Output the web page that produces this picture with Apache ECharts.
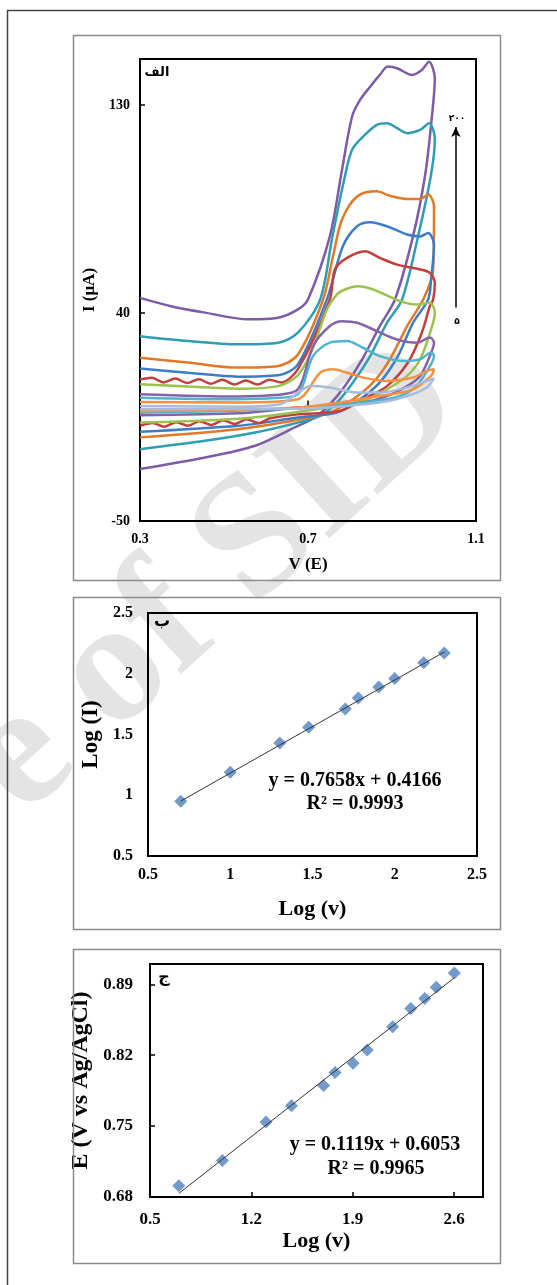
<!DOCTYPE html>
<html><head><meta charset="utf-8">
<script src="https://cdn.jsdelivr.net/npm/echarts/dist/echarts.min.js"></script>
<style>html,body{margin:0;padding:0;background:#fff;}#c{width:557px;height:1285px;}</style>
</head><body><div id="c"></div>
<script>
// ---------- Panel A: cyclic voltammograms (V, I in µA), scan rates 5..200 mV/s ----------
const cv200 = [[0.300,46.6],[0.374,43.0],[0.455,40.2],[0.557,37.3],[0.629,38.0],[0.676,41.6],[0.700,45.9],[0.752,73.2],[0.781,102.1],[0.805,125.1],[0.824,132.3],[0.848,138.0],[0.871,143.1],[0.890,146.7],[0.912,146.0],[0.948,143.1],[0.971,145.2],[0.988,148.8],[1.002,141.7],
  [0.995,125.1],[0.979,99.9],[0.950,73.2],[0.907,45.9],[0.871,34.4],[0.829,20.0],[0.788,8.4],[0.752,0.5],[0.717,-5.1],[0.676,-8.8],[0.574,-17.4],[0.455,-22.5],[0.300,-27.5]];
const cv150 = [[0.300,30.0],[0.414,27.9],[0.533,26.5],[0.629,27.2],[0.676,31.5],[0.729,45.9],[0.757,72.0],[0.786,97.7],[0.805,110.7],[0.831,116.4],[0.864,121.5],[0.888,122.2],[0.912,120.1],[0.936,117.9],[0.967,119.3],[0.988,122.2],[1.002,115.7],
  [0.993,100.0],[0.962,73.2],[0.924,45.9],[0.888,35.8],[0.848,21.4],[0.807,10.0],[0.769,1.3],[0.729,-4.5],[0.676,-7.4],[0.574,-11.7],[0.455,-15.3],[0.300,-18.9]];
const cv100 = [[0.300,20.7],[0.414,18.6],[0.533,16.4],[0.629,17.1],[0.676,22.1],[0.736,45.9],[0.760,65.0],[0.781,80.5],[0.817,90.5],[0.864,92.7],[0.895,90.8],[0.936,89.4],[0.967,89.4],[0.986,91.3],[1.000,86.2],
  [0.998,58.9],[0.976,46.5],[0.936,34.4],[0.895,20.0],[0.855,10.0],[0.807,2.7],[0.752,-3.1],[0.676,-6.2],[0.533,-10.3],[0.300,-13.8]];
const cv80 = [[0.300,16.0],[0.414,14.2],[0.533,12.5],[0.629,13.1],[0.676,17.8],[0.745,45.9],[0.783,68.9],[0.817,77.6],[0.848,79.3],[0.888,77.6],[0.936,74.0],[0.967,73.2],[0.986,74.7],[1.000,69.7],
  [0.993,54.5],[0.986,45.9],[0.950,35.8],[0.914,21.4],[0.871,10.0],[0.824,2.7],[0.769,-3.1],[0.676,-5.2],[0.533,-8.8],[0.300,-11.4]];
const cv60 = [[0.300,11.3],[0.328,12.0],[0.356,10.0],[0.384,11.7],[0.412,9.7],[0.440,11.4],[0.468,9.4],[0.496,11.1],[0.524,9.1],[0.552,10.8],[0.580,9.1],[0.608,11.2],[0.636,10.0],[0.676,15.7],[0.752,45.9],[0.764,58.9],[0.793,63.9],[0.836,66.8],[0.871,63.9],[0.912,61.0],[0.967,58.9],[0.990,57.4],[1.002,53.1],
  [0.998,45.9],[0.990,43.0],[0.971,31.5],[0.938,18.6],[0.888,8.4],[0.831,2.7],[0.776,-2.4],[0.676,-3.8],[0.610,-5.5],[0.582,-7.6],[0.554,-6.0],[0.526,-8.0],[0.498,-6.4],[0.470,-8.4],[0.442,-6.8],[0.414,-8.8],[0.386,-7.2],[0.358,-9.2],[0.330,-7.6],[0.300,-8.8]];
const cv50 = [[0.300,9.2],[0.414,8.2],[0.533,7.3],[0.629,8.4],[0.676,13.1],[0.710,24.0],[0.745,41.6],[0.769,48.1],[0.788,50.2],[0.819,51.6],[0.855,50.2],[0.919,45.2],[0.960,43.7],[0.990,44.5],[1.002,40.2],
  [0.993,32.9],[0.967,20.0],[0.936,12.8],[0.888,7.0],[0.831,2.0],[0.676,-2.8],[0.533,-5.7],[0.300,-7.4]];
const cv30 = [[0.300,4.9],[0.533,3.9],[0.620,4.5],[0.676,7.0],[0.712,25.7],[0.752,34.4],[0.781,36.5],[0.817,35.8],[0.864,32.2],[0.912,28.6],[0.960,27.2],[0.990,29.4],[1.000,27.2],
  [0.990,21.4],[0.967,12.8],[0.936,8.4],[0.888,4.1],[0.831,1.3],[0.676,-0.9],[0.533,-3.4],[0.300,-4.2]];
const cv20 = [[0.300,3.4],[0.533,2.7],[0.620,3.2],[0.676,4.9],[0.712,21.4],[0.752,27.2],[0.793,27.9],[0.831,25.0],[0.871,21.4],[0.926,19.3],[0.967,20.0],[0.993,22.9],[1.000,21.4],
  [0.986,15.7],[0.950,7.0],[0.888,2.7],[0.676,-1.2],[0.300,-3.1]];
const cv10 = [[0.300,1.5],[0.533,1.3],[0.676,2.7],[0.729,14.2],[0.760,15.7],[0.793,14.2],[0.831,12.1],[0.886,10.6],[0.950,12.1],[0.983,15.0],[1.000,15.7],
  [0.993,12.8],[0.950,7.0],[0.871,4.1],[0.676,-0.9],[0.300,-2.4]];
const cv5 = [[0.300,-0.2],[0.533,-0.5],[0.633,0.5],[0.681,6.2],[0.705,8.4],[0.752,7.8],[0.817,5.6],[0.871,5.6],[0.936,7.8],[0.983,10.6],[1.000,11.7],
  [0.983,7.8],[0.936,4.1],[0.871,1.3],[0.676,-1.4],[0.300,-1.6]];
const cvCurves = [cv200, cv150, cv100, cv80, cv60, cv50, cv30, cv20, cv10, cv5];
const arrowV = [1.052, 1.052];
const arrowI = [42.4, 120.6];

// ---------- Panel B: Log(I) vs Log(v) ----------
const logV_B = [0.699, 1.0, 1.301, 1.477, 1.699, 1.778, 1.903, 2.0, 2.176, 2.301];
const logI_B = [0.95, 1.19, 1.43, 1.56, 1.71, 1.80, 1.89, 1.96, 2.09, 2.17];
const fitB = {slope: 0.7658, intercept: 0.4166, r2: 0.9993};

// ---------- Panel C: Ep vs Log(v) ----------
const logV_C = [0.699, 1.0, 1.301, 1.477, 1.699, 1.778, 1.903, 2.0, 2.176, 2.301, 2.398, 2.477, 2.602];
const Ep_C = [0.691, 0.716, 0.754, 0.770, 0.790, 0.803, 0.812, 0.825, 0.848, 0.866, 0.876, 0.887, 0.901];
const fitC = {slope: 0.1119, intercept: 0.6053, r2: 0.9965};

// ---------- styling ----------
const cvColors = ['#7D5BA6','#2F9DB2','#E2792A','#3C7DC9','#C33F3C','#9BC24E','#8463A9','#4DB6CC','#F6923F','#A9BBDD'];
const SERIF = '"Liberation Serif","Times New Roman",serif';
const onGrid = (v, start, step) => Math.abs((v - start) / step - Math.round((v - start) / step)) < 1e-6;

const chart = echarts.init(document.getElementById('c'), null, {renderer: 'canvas'});

function axisBase(extra) {
  return Object.assign({
    type: 'value', splitLine: {show: false}, axisLine: {show: false},
    nameLocation: 'middle',
    nameTextStyle: {fontFamily: SERIF, fontWeight: 'bold', color: '#000'},
  }, extra);
}
const lab = (size, margin, fmt) => ({color: '#000', fontFamily: SERIF, fontWeight: 'bold', fontSize: size, margin: margin, formatter: fmt});

const series = [];
cvCurves.forEach((d, i) => {
  series.push({
    type: 'line', xAxisIndex: 0, yAxisIndex: 0, data: d, smooth: 0.3, showSymbol: false,
    lineStyle: {color: cvColors[i], width: 2.5}, itemStyle: {color: cvColors[i]}, z: 2 + i
  });
});
series[series.length - 1].markLine = {
  silent: true, symbol: ['none', 'arrow'], symbolSize: [7, 10],
  lineStyle: {color: '#000', width: 1.5, type: 'solid'}, label: {show: false},
  data: [[{coord: [arrowV[0], arrowI[0]]}, {coord: [arrowV[1], arrowI[1]]}]]
};

series.push({type: 'scatter', xAxisIndex: 1, yAxisIndex: 1, symbol: 'diamond', symbolSize: 13,
  itemStyle: {color: '#4F81BD'}, data: logV_B.map((x, i) => [x, logI_B[i]]), z: 3});
const xb0 = logV_B[0], xb1 = logV_B[logV_B.length - 1];
series.push({type: 'line', xAxisIndex: 1, yAxisIndex: 1, showSymbol: false, z: 4,
  lineStyle: {color: '#333', width: 1},
  data: [[xb0, fitB.slope * xb0 + fitB.intercept], [xb1, fitB.slope * xb1 + fitB.intercept]]});

series.push({type: 'scatter', xAxisIndex: 2, yAxisIndex: 2, symbol: 'diamond', symbolSize: 13,
  itemStyle: {color: '#4F81BD'}, data: logV_C.map((x, i) => [x, Ep_C[i]]), z: 3});
const xc0 = logV_C[0], xc1 = logV_C[logV_C.length - 1];
series.push({type: 'line', xAxisIndex: 2, yAxisIndex: 2, showSymbol: false, z: 4,
  lineStyle: {color: '#333', width: 1},
  data: [[xc0, fitC.slope * xc0 + fitC.intercept], [xc1, fitC.slope * xc1 + fitC.intercept]]});

const txt = (x, y, text, font, extra) => Object.assign({type: 'text', x: x, y: y, z: 100,
  style: Object.assign({text: text, font: font, fill: '#000', align: 'center', verticalAlign: 'middle'}, extra || {})});

const option = {
  animation: false,
  backgroundColor: '#fff',
  grid: [
    {left: 140, top: 59, width: 336, height: 462, show: true, borderColor: '#000', borderWidth: 2},
    {left: 148, top: 613, width: 329, height: 243, show: true, borderColor: '#000', borderWidth: 2},
    {left: 150, top: 964, width: 333, height: 233, show: true, borderColor: '#000', borderWidth: 2}
  ],
  xAxis: [
    axisBase({gridIndex: 0, min: 0.3, max: 1.1, interval: 0.4, name: 'V (E)', nameGap: 35,
      nameTextStyle: {fontFamily: SERIF, fontWeight: 'bold', color: '#000', fontSize: 17},
      axisTick: {show: true, inside: true, length: 5, lineStyle: {color: '#000', width: 1.5}},
      axisLabel: lab(14, 11, v => onGrid(v, 0.3, 0.4) ? (+v.toFixed(1)).toString() : '')}),
    axisBase({gridIndex: 1, min: 0.5, max: 2.5, interval: 0.5, name: 'Log (v)', nameGap: 42,
      nameTextStyle: {fontFamily: SERIF, fontWeight: 'bold', color: '#000', fontSize: 22},
      axisTick: {show: false},
      axisLabel: lab(16, 11, v => onGrid(v, 0.5, 0.5) ? (+v.toFixed(1)).toString() : '')}),
    axisBase({gridIndex: 2, min: 0.5, max: 2.8, interval: 0.7, name: 'Log (v)', nameGap: 33,
      nameTextStyle: {fontFamily: SERIF, fontWeight: 'bold', color: '#000', fontSize: 22},
      axisTick: {show: true, inside: true, length: 5, lineStyle: {color: '#000', width: 1.5}},
      axisLabel: lab(17, 14, v => onGrid(v, 0.5, 0.7) ? v.toFixed(1) : '')})
  ],
  yAxis: [
    axisBase({gridIndex: 0, min: -50, max: 150, interval: 90, name: 'I (μA)', nameGap: 37,
      nameTextStyle: {fontFamily: SERIF, fontWeight: 'bold', color: '#000', fontSize: 17},
      axisTick: {show: true, inside: true, length: 5, lineStyle: {color: '#000', width: 1.5}},
      axisLabel: lab(14, 10, v => onGrid(v, -50, 90) ? String(Math.round(v)) : '')}),
    axisBase({gridIndex: 1, min: 0.5, max: 2.5, interval: 0.5, name: 'Log (I)', nameGap: 41,
      nameTextStyle: {fontFamily: SERIF, fontWeight: 'bold', color: '#000', fontSize: 23},
      axisTick: {show: false},
      axisLabel: lab(16, 15, v => onGrid(v, 0.5, 0.5) ? (+v.toFixed(1)).toString() : '')}),
    axisBase({gridIndex: 2, min: 0.68, max: 0.91, interval: 0.07, name: 'E (V vs Ag/AgCl)', nameGap: 57,
      nameTextStyle: {fontFamily: SERIF, fontWeight: 'bold', color: '#000', fontSize: 24},
      axisTick: {show: true, inside: true, length: 5, lineStyle: {color: '#000', width: 1.5}},
      axisLabel: lab(17, 17, v => onGrid(v, 0.68, 0.07) ? v.toFixed(2) : '')})
  ],
  graphic: [
    // watermark
    {type: 'text', x: 438, y: 378, rotation: 0.74, z: -10, silent: true,
      style: {text: 'Archive of SID', font: 'bold 175px ' + SERIF, fill: '#e4e4e4', align: 'right', verticalAlign: 'middle'}},
    // outer border
    {type: 'line', shape: {x1: 7.5, y1: 10, x2: 7.5, y2: 1285}, style: {stroke: '#444', lineWidth: 1.5}, z: 50},
    {type: 'line', shape: {x1: 7, y1: 10.5, x2: 557, y2: 10.5}, style: {stroke: '#444', lineWidth: 1.5}, z: 50},
    // panel frames
    {type: 'rect', shape: {x: 73.5, y: 35.5, width: 427, height: 545}, style: {fill: 'none', stroke: '#8a8a8a', lineWidth: 1.5}, z: 50},
    {type: 'rect', shape: {x: 73.5, y: 597.5, width: 427, height: 332}, style: {fill: 'none', stroke: '#8a8a8a', lineWidth: 1.5}, z: 50},
    {type: 'rect', shape: {x: 73.5, y: 949.5, width: 427, height: 314}, style: {fill: 'none', stroke: '#8a8a8a', lineWidth: 1.5}, z: 50},
    // panel labels
    txt(157, 73, 'الف', 'bold 13px "DejaVu Sans"'),
    txt(162, 622, 'ب', 'bold 16px "DejaVu Sans"'),
    txt(164, 978, 'ج', 'bold 16px "DejaVu Sans"'),
    // arrow labels
    txt(457, 119, '۲۰۰', 'bold 9px "DejaVu Sans"'),
    txt(457, 322, '۵', 'bold 9px "DejaVu Sans"'),
    // equations
    txt(355, 781, 'y = ' + fitB.slope.toFixed(4) + 'x + ' + fitB.intercept.toFixed(4), 'bold 20px ' + SERIF),
    txt(355, 804, 'R² = ' + fitB.r2.toFixed(4), 'bold 20px ' + SERIF),
    txt(375, 1145, 'y = ' + fitC.slope.toFixed(4) + 'x + ' + fitC.intercept.toFixed(4), 'bold 20px ' + SERIF),
    txt(376, 1169, 'R² = ' + fitC.r2.toFixed(4), 'bold 20px ' + SERIF)
  ],
  series: series
};
chart.setOption(option);
</script></body></html>
